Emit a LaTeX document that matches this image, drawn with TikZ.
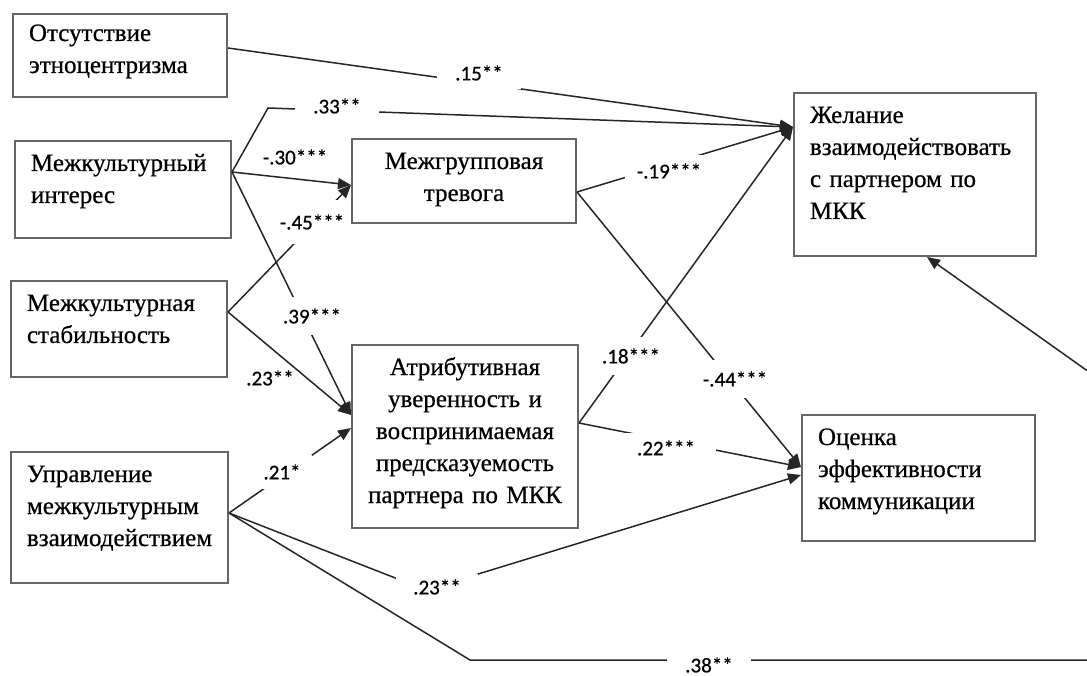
\documentclass[tikz,border=0pt]{standalone}
\usepackage{fontspec}
\setmainfont{Liberation Serif}[FakeBold=0.6]
\newfontfamily\coeffont{Carlito}[FakeBold=0.6]
\usetikzlibrary{calc}
\usetikzlibrary{arrows.meta}
\tikzset{
	align=center,
	var/.style={
		draw=black!60,
		line width=2pt,
		rectangle,
		anchor=north west,
		inner xsep=16pt,
		inner ysep=0pt,
		text height=30pt,
		font=\fontsize{25}{32}\selectfont,
		align=left,
	},
	medvar/.style={
		var,
		align=center,
	},
	effect/.style={
		draw=black!85,
		line width=1.5pt,
		-{Triangle[length=13pt,width=11pt]}
	},
	coef/.style={
		font=\coeffont\fontsize{21}{22}\selectfont,
		inner sep=1pt,
	},
	gap/.style={
		coef,
		fill=white,
	},
}

\begin{document}
\begin{tikzpicture}[x=1pt,y=-1pt]
	\useasboundingbox (0,0) rectangle (1087,676);

	\node[var, text width=182pt, text height=27pt, text depth=56pt] (ethno) at (12,13) {Отсутствие\\этноцентризма};
	\node[var, text width=184pt, text depth=67pt] (inter) at (14,140) {Межкультурный\\интерес};
	\node[var, text width=184pt, text depth=66pt] (stab) at (10,280) {Межкультурная\\стабильность};
	\node[var, text width=185pt, text depth=101pt] (mgmt) at (10,451) {Управление\\межкультурным\\взаимодействием};

	\node[medvar, text width=192pt, text depth=54pt] (anx) at (351,138) {Межгрупповая\\тревога};
	\node[medvar, text width=194pt, text depth=153pt] (attr) at (351,344) {Атрибутивная\\уверенность и\\воспринимаемая\\предсказуемость\\партнера по МКК};

	\node[var, text width=210pt, text depth=133pt] (will) at (793,92) {Желание\\взаимодействовать\\с партнером по\\МКК};
	\node[var, text width=201pt, text depth=96pt] (eval) at (801,414) {Оценка\\эффективности\\коммуникации};

	\coordinate (ethnoout) at ([yshift=-35pt]ethno.north east);
	\coordinate (interout) at ([yshift=-32pt]inter.north east);
	\coordinate (stabout) at ([yshift=-32pt]stab.north east);
	\coordinate (mgmtout) at ([yshift=-62pt]mgmt.north east);
	\coordinate (anxin) at ([yshift=-47pt]anx.north west);
	\coordinate (anxout) at ([yshift=-54pt]anx.north east);
	\coordinate (attrin) at ([yshift=-71pt]attr.north west);
	\coordinate (attrinlow) at ([yshift=-84pt]attr.north west);
	\coordinate (attrout) at ([yshift=-79pt]attr.north east);
	\coordinate (willin) at ([yshift=-35pt]will.north west);
	\coordinate (willbot) at ([xshift=134pt]will.south west);
	\coordinate (evalin) at ([yshift=-53pt]eval.north west);
	\coordinate (evalinlow) at ([yshift=-61pt]eval.north west);

	\coordinate (bend33) at (268,108);
	\coordinate (bend23) at (426,590);
	\coordinate (bend38) at (470,660);
	\coordinate (corner38) at (1120,660);
	\coordinate (up38) at (1120,394);

	\draw[effect] (ethnoout) -- (willin);
	\draw[effect] (interout) -- (bend33) -- (willin);
	\draw[effect] (interout) -- (anxin);
	\draw[effect] (stabout) -- (anxin);
	\draw[effect] (interout) -- (attrin);
	\draw[effect] (stabout) -- (attrin);
	\draw[effect] (mgmtout) -- (attrinlow);
	\draw[effect] (anxout) -- (willin);
	\draw[effect] (anxout) -- (evalin);
	\draw[effect] (attrout) -- (willin);
	\draw[effect] (attrout) -- (evalin);
	\draw[effect] (mgmtout) -- (bend23) -- (evalinlow);
	\draw[effect] (mgmtout) -- (bend38) -- (corner38) -- (up38) -- (willbot);

	\node[gap, inner xsep=18pt, inner ysep=8pt] (c15) at (479,73) {.15**};
	\node[gap, inner xsep=18pt, inner ysep=4pt] (c33) at (337,106) {.33**};
	\node[coef] (c30) at (295,157) {-.30***};
	\node[gap, inner xsep=0pt, inner ysep=14pt] (c45) at (312,222) {-.45***};
	\node[gap, inner xsep=0pt, inner ysep=11pt] (c39) at (312,316) {.39***};
	\node[coef] (c23a) at (270,378) {.23**};
	\node[gap, inner xsep=11pt, inner ysep=9pt] (c21) at (282,472) {.21*};
	\node[gap, inner xsep=12pt, inner ysep=8pt] (c19) at (669,171) {-.19***};
	\node[gap, inner xsep=0pt, inner ysep=11pt] (c44) at (735,379) {-.44***};
	\node[gap, inner xsep=0pt, inner ysep=11pt] (c18) at (631,356) {.18***};
	\node[gap, inner xsep=21pt, inner ysep=7pt] (c22) at (666,448) {.22***};
	\node[gap, inner xsep=17pt, inner ysep=5pt] (c23b) at (437,587) {.23**};
	\node[gap, inner xsep=18pt, inner ysep=3pt] (c38) at (709,665) {.38**};
\end{tikzpicture}
\end{document}
